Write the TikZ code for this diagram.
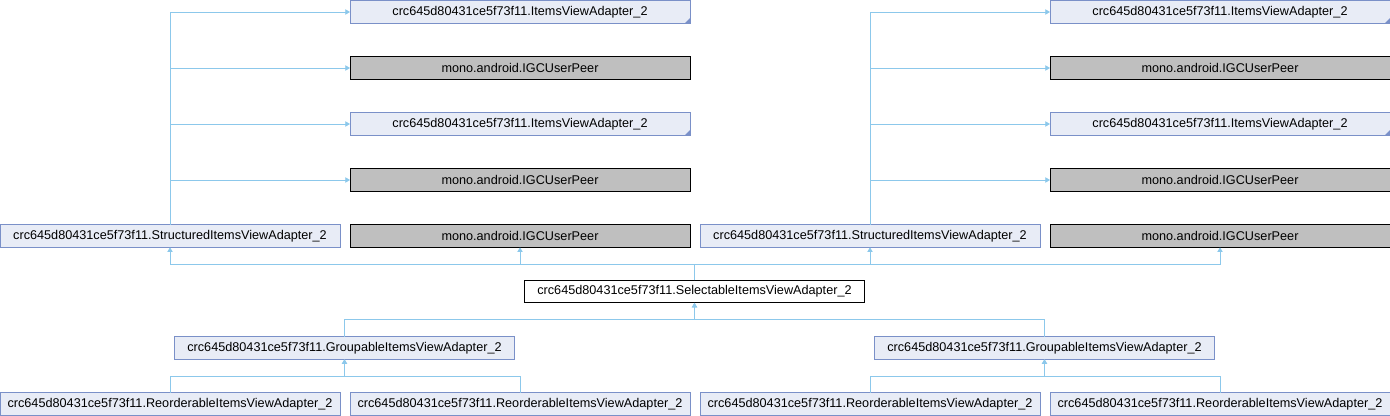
\documentclass[tikz,border=0pt]{standalone}
\usepackage{fontspec}
\setmainfont{Liberation Sans}
\usetikzlibrary{arrows.meta}

\definecolor{clsfill}{RGB}{232,236,246}
\definecolor{clsdraw}{RGB}{122,144,200}
\definecolor{extfill}{RGB}{191,191,191}
\definecolor{edgeblue}{RGB}{140,200,235}

\tikzset{
  box/.style={minimum width=255pt, minimum height=17pt, inner sep=0pt, outer sep=0pt,
    font=\fontsize{9.5}{11}\selectfont, line width=0.6pt},
  cls/.style={box, draw=clsdraw, fill=clsfill},
  trunc/.style={cls, path picture={\fill[clsdraw] (path picture bounding box.south east)
    -- ++(-4pt,0) -- ++(4pt,4pt) -- cycle;}},
  ext/.style={box, draw=black, fill=extfill},
  cur/.style={box, draw=black, fill=white},
  inh/.style={draw=edgeblue, line width=0.6pt, -{Triangle[length=3.5pt,width=4pt]}}
}

\begin{document}
\begin{tikzpicture}[x=0.75pt,y=-0.75pt]
  \useasboundingbox (0,0) rectangle (1390,416);

  % left part
  \node[trunc] (itemsL1) at (520,12) {crc645d80431ce5f73f11.ItemsViewAdapter\_2};
  \node[ext] (peerL1) at (520,68) {mono.android.IGCUserPeer};
  \node[trunc] (itemsL2) at (520,124) {crc645d80431ce5f73f11.ItemsViewAdapter\_2};
  \node[ext] (peerL2) at (520,180) {mono.android.IGCUserPeer};
  \node[cls] (structL) at (170,236) {crc645d80431ce5f73f11.StructuredItemsViewAdapter\_2};
  \node[ext] (peerL3) at (520,236) {mono.android.IGCUserPeer};

  % right part
  \node[trunc] (itemsR1) at (1220,12) {crc645d80431ce5f73f11.ItemsViewAdapter\_2};
  \node[ext] (peerR1) at (1220,68) {mono.android.IGCUserPeer};
  \node[trunc] (itemsR2) at (1220,124) {crc645d80431ce5f73f11.ItemsViewAdapter\_2};
  \node[ext] (peerR2) at (1220,180) {mono.android.IGCUserPeer};
  \node[cls] (structR) at (870,236) {crc645d80431ce5f73f11.StructuredItemsViewAdapter\_2};
  \node[ext] (peerR3) at (1220,236) {mono.android.IGCUserPeer};

  % middle and below
  \node[cur] (sel) at (694.5,291.5) {crc645d80431ce5f73f11.SelectableItemsViewAdapter\_2};
  \node[cls] (groupL) at (344.5,348) {crc645d80431ce5f73f11.GroupableItemsViewAdapter\_2};
  \node[cls] (groupR) at (1044.5,348) {crc645d80431ce5f73f11.GroupableItemsViewAdapter\_2};
  \node[cls] (reordLL) at (170,404) {crc645d80431ce5f73f11.ReorderableItemsViewAdapter\_2};
  \node[cls] (reordLR) at (520,404) {crc645d80431ce5f73f11.ReorderableItemsViewAdapter\_2};
  \node[cls] (reordRL) at (870,404) {crc645d80431ce5f73f11.ReorderableItemsViewAdapter\_2};
  \node[cls] (reordRR) at (1220,404) {crc645d80431ce5f73f11.ReorderableItemsViewAdapter\_2};

  \foreach \s in {L,R} {
    \draw[inh] (struct\s.north) |- (items\s1.west);
    \draw[inh] (struct\s.north) |- (peer\s1.west);
    \draw[inh] (struct\s.north) |- (items\s2.west);
    \draw[inh] (struct\s.north) |- (peer\s2.west);
  }

  \foreach \t in {structL,peerL3,structR,peerR3}
    \draw[inh] (sel.north) -- ++(0,-16) -| (\t.south);

  \foreach \g in {groupL,groupR}
    \draw[inh] (\g.north) -- ++(0,-17) -| (sel.south);

  \draw[inh] (reordLL.north) -- ++(0,-16) -| (groupL.south);
  \draw[inh] (reordLR.north) -- ++(0,-16) -| (groupL.south);
  \draw[inh] (reordRL.north) -- ++(0,-16) -| (groupR.south);
  \draw[inh] (reordRR.north) -- ++(0,-16) -| (groupR.south);
\end{tikzpicture}
\end{document}
